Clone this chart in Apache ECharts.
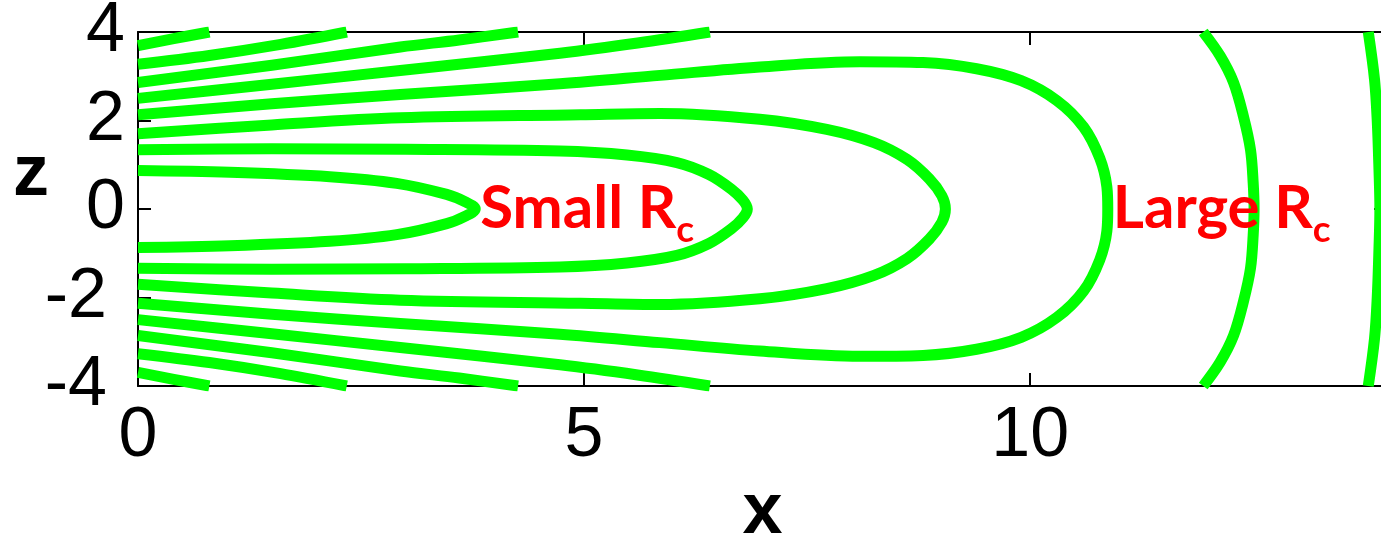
<!DOCTYPE html>
<html>
<head>
<meta charset="utf-8">
<script src="https://cdn.jsdelivr.net/npm/echarts@6/dist/echarts.min.js"></script>
<style>
  html, body { margin: 0; padding: 0; background: #ffffff; }
  #chart { width: 1381px; height: 534px; }
</style>
</head>
<body>
<div id="chart"></div>
<script>
// Axis ranges and ticks
const xRange = [0, 14];
const zRange = [-4, 4];
const xTickStep = 5;
const zTickStep = 2;

// Open field lines on the left, leaving through the top boundary
const open1Upper = [[0, 3.69], [0.4, 3.85], [0.8, 4.0]];
const open2Upper = [[0, 3.27], [0.8, 3.47], [1.6, 3.72], [2.34, 4.0]];
const open3Upper = [[0, 2.86], [1.5, 3.25], [2.94, 3.66], [3.6, 3.82], [4.26, 4.0]];
const open4Upper = [[0, 2.50], [1.5, 2.82], [2.94, 3.13], [4.73, 3.52], [5.6, 3.75], [6.41, 4.0]];

// Their mirror images, leaving through the bottom boundary
const open1Lower = [[0, -3.69], [0.4, -3.85], [0.8, -4.0]];
const open2Lower = [[0, -3.27], [0.8, -3.47], [1.6, -3.72], [2.34, -4.0]];
const open3Lower = [[0, -2.86], [1.5, -3.25], [2.94, -3.66], [3.6, -3.82], [4.26, -4.0]];
const open4Lower = [[0, -2.50], [1.5, -2.82], [2.94, -3.13], [4.73, -3.52], [5.6, -3.75], [6.41, -4.0]];

// Closed loops, traced from the upper-left, around the tip, back to the lower-left
const loopSmall = [
  [0, 0.87], [1.03, 0.83], [2.15, 0.73], [2.9, 0.58], [3.46, 0.33], [3.67, 0.16], [3.78, 0],
  [3.67, -0.16], [3.46, -0.33], [2.9, -0.58], [2.15, -0.73], [1.03, -0.83], [0, -0.87]
];
const loop2 = [
  [0, 1.34], [1.5, 1.36], [3.0, 1.35], [4.73, 1.31], [5.48, 1.22], [6.04, 1.05], [6.4, 0.78],
  [6.65, 0.45], [6.78, 0.2], [6.83, 0], [6.78, -0.2], [6.65, -0.45],
  [6.4, -0.78], [6.04, -1.05], [5.48, -1.22], [4.73, -1.31], [3.0, -1.35], [1.5, -1.36], [0, -1.34]
];
const loop3 = [
  [0, 1.70], [1.5, 1.90], [2.94, 2.06], [4.96, 2.13], [5.85, 2.16], [6.97, 2.03], [7.72, 1.80],
  [8.25, 1.50], [8.62, 1.12], [8.87, 0.68], [9.01, 0.30], [9.05, 0],
  [9.01, -0.30], [8.87, -0.68], [8.62, -1.12], [8.25, -1.50], [7.72, -1.80],
  [6.97, -2.03], [5.85, -2.16], [4.96, -2.13], [2.94, -2.06], [1.5, -1.90], [0, -1.70]
];
const loopLarge = [
  [0, 2.13], [1.5, 2.38], [2.94, 2.59], [4.73, 2.83], [5.85, 3.02], [6.97, 3.21], [8.09, 3.33],
  [8.8, 3.31], [9.4, 3.17], [9.9, 2.90], [10.3, 2.45], [10.6, 1.85], [10.78, 1.15],
  [10.86, 0.5], [10.87, 0], [10.86, -0.5],
  [10.78, -1.15], [10.6, -1.85], [10.3, -2.45], [9.9, -2.90], [9.4, -3.17], [8.8, -3.31],
  [8.09, -3.33], [6.97, -3.21], [5.85, -3.02], [4.73, -2.83], [2.94, -2.59], [1.5, -2.38], [0, -2.13]
];

// Arcs on the right, running from the top boundary to the bottom boundary
const arcOuter1 = [
  [11.94, 4.0], [12.13, 3.46], [12.28, 2.86], [12.39, 2.10], [12.47, 1.34], [12.50, 0.59], [12.51, 0],
  [12.50, -0.59], [12.47, -1.34], [12.39, -2.10], [12.28, -2.86], [12.13, -3.46], [11.94, -4.0]
];
const arcOuter2 = [
  [13.79, 4.0], [13.86, 2.93], [13.89, 2.02], [13.91, 0.89], [13.92, 0],
  [13.91, -0.89], [13.89, -2.02], [13.86, -2.93], [13.79, -4.0]
];

// Annotations placed just right of the tips of the innermost and the large loop
const annotations = [
  { at: [3.78, 0], main: 'Small R', sub: 'c' },
  { at: [10.87, 0], main: 'Large R', sub: 'c' }
];

const allLines = [
  open1Upper, open2Upper, open3Upper, open4Upper,
  open1Lower, open2Lower, open3Lower, open4Lower,
  loopSmall, loop2, loop3, loopLarge, arcOuter1, arcOuter2
];

const GREEN = '#00ff00';
const TICK_FONT = '"Liberation Sans", Arial, sans-serif';
const NOTE_FONT = 'Lato, "Open Sans", sans-serif';

function lineSeries(points) {
  return {
    type: 'line',
    xAxisIndex: 0,
    yAxisIndex: 0,
    data: points,
    showSymbol: false,
    symbol: 'none',
    smooth: 0.35,
    clip: true,
    silent: true,
    lineStyle: { color: GREEN, width: 11, cap: 'butt', join: 'round' },
    z: 2
  };
}

const axisLineStyle = { show: true, onZero: false, lineStyle: { color: '#000', width: 2 } };
const tickStyle = { show: true, inside: true, length: 13, lineStyle: { color: '#000', width: 2 } };

const chart = echarts.init(document.getElementById('chart'), null, { renderer: 'canvas' });

chart.setOption({
  animation: false,
  backgroundColor: '#ffffff',
  grid: {
    left: 138, top: 32, width: 1249, height: 354,
    show: false, containLabel: false, outerBoundsMode: 'none'
  },
  xAxis: [
    {
      type: 'value', min: xRange[0], max: xRange[1], interval: xTickStep,
      position: 'bottom',
      axisLine: axisLineStyle, axisTick: tickStyle,
      splitLine: { show: false },
      axisLabel: {
        show: true, margin: 16, showMaxLabel: false,
        color: '#000', fontFamily: TICK_FONT, fontSize: 70
      },
      name: 'x', nameLocation: 'middle', nameGap: 87,
      nameTextStyle: { color: '#000', fontFamily: TICK_FONT, fontWeight: 'bold', fontSize: 72 }
    },
    {
      type: 'value', min: xRange[0], max: xRange[1], interval: xTickStep,
      position: 'top',
      axisLine: axisLineStyle, axisTick: tickStyle,
      splitLine: { show: false }, axisLabel: { show: false }
    }
  ],
  yAxis: [
    {
      type: 'value', min: zRange[0], max: zRange[1], interval: zTickStep,
      position: 'left',
      axisLine: axisLineStyle, axisTick: tickStyle,
      splitLine: { show: false },
      axisLabel: {
        show: true, margin: 13,
        formatter: v => (v < 0 ? '{neg|' + v + '}' : '{pos|' + v + '}'),
        rich: {
          pos: { color: '#000', fontFamily: TICK_FONT, fontSize: 70 },
          neg: { color: '#000', fontFamily: TICK_FONT, fontSize: 70, padding: [0, 18, 0, 0] }
        }
      }
    },
    {
      type: 'value', min: zRange[0], max: zRange[1], interval: zTickStep,
      position: 'right',
      axisLine: axisLineStyle, axisTick: tickStyle,
      splitLine: { show: false }, axisLabel: { show: false }
    }
  ],
  graphic: [
    {
      type: 'text', x: 31, y: 175,
      style: {
        text: 'z', fill: '#000', align: 'center', verticalAlign: 'middle',
        font: 'bold 72px "Liberation Sans", Arial, sans-serif'
      }
    }
  ],
  series: allLines.map(lineSeries).concat([
    {
      type: 'scatter',
      xAxisIndex: 0,
      yAxisIndex: 0,
      data: annotations.map(a => ({ value: a.at, main: a.main, sub: a.sub })),
      symbolSize: 0,
      silent: true,
      z: 5,
      itemStyle: { opacity: 1 },
      label: {
        show: true,
        position: 'right',
        distance: 5,
        opacity: 1,
        formatter: p => '{main|' + p.data.main + '}{sub|' + p.data.sub + '}',
        rich: {
          main: { color: '#ff0000', fontFamily: NOTE_FONT, fontWeight: 'bold', fontSize: 60 },
          sub: { color: '#ff0000', fontFamily: NOTE_FONT, fontWeight: 'bold', fontSize: 37, padding: [42, 0, 0, 0] }
        }
      }
    }
  ])
});
</script>
</body>
</html>
